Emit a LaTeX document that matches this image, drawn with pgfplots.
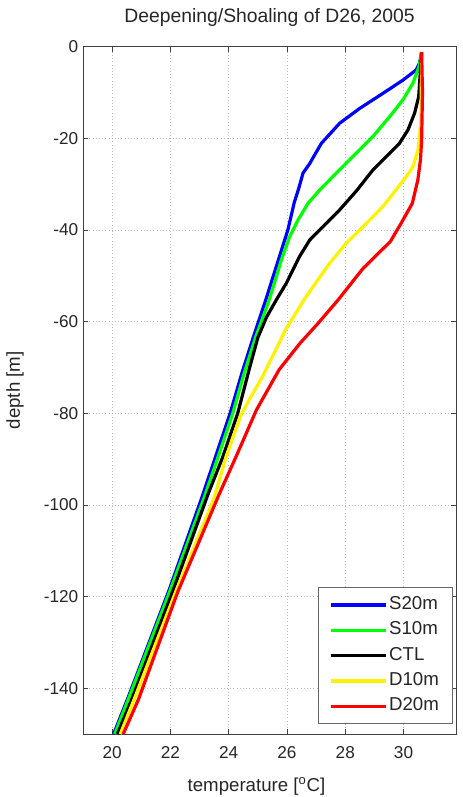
\documentclass[border=0pt]{standalone}
\usepackage{fontspec}
\setmainfont{Liberation Sans}
\usepackage{pgfplots}
\pgfplotsset{compat=1.18}

% temperature profiles, one table per run (T in degC, depth in m)
\pgfplotstableread{
T depth
30.62 -1.2
30.55 -3.6
30.43 -5.1
29.98 -7.3
29.29 -10.2
28.49 -13.5
27.81 -16.7
27.18 -21.1
26.78 -25.5
26.55 -27.6
26.40 -31.0
26.25 -34.0
26.03 -40.0
25.27 -55.3
24.85 -63.3
24.45 -71.3
24.05 -80.0
23.10 -98.0
21.96 -118.5
20.52 -142.5
20.05 -150.0
}\sdeep
\pgfplotstableread{
T depth
30.62 -1.2
30.53 -4.4
30.32 -8.0
29.98 -11.6
29.52 -15.3
28.95 -19.6
28.26 -24.0
27.69 -27.6
27.12 -31.3
26.72 -34.2
26.38 -37.8
26.09 -41.5
25.81 -46.5
25.39 -55.3
24.93 -63.3
24.53 -71.3
24.14 -80.0
23.68 -88.7
23.17 -98.2
22.00 -118.5
20.55 -142.5
20.09 -150.0
}\sten
\pgfplotstableread{
T depth
30.62 -1.2
30.58 -5.1
30.52 -10.9
30.38 -14.5
30.15 -18.2
29.86 -21.1
29.52 -23.3
28.95 -26.9
28.38 -31.5
27.81 -35.6
27.23 -39.3
26.78 -42.2
26.43 -45.8
25.98 -51.6
25.63 -55.3
25.30 -59.0
25.00 -63.5
24.72 -70.0
24.31 -80.0
23.80 -89.5
23.30 -97.5
22.10 -118.5
20.67 -142.5
20.18 -150.0
}\ctl
\pgfplotstableread{
T depth
30.62 -1.2
30.60 -16.0
30.50 -22.5
30.32 -26.2
30.09 -28.4
29.29 -34.9
28.61 -39.3
28.03 -42.9
27.46 -47.3
26.89 -52.4
26.58 -55.3
25.95 -61.8
25.61 -66.2
25.16 -72.0
24.70 -77.1
24.42 -80.4
23.91 -89.5
23.50 -98.5
22.21 -118.5
20.75 -142.5
20.28 -150.0
}\dten
\pgfplotstableread{
T depth
30.62 -1.2
30.65 -10.0
30.62 -20.4
30.58 -24.7
30.49 -29.1
30.30 -34.2
29.92 -38.5
29.55 -42.5
28.61 -48.4
27.75 -55.3
27.05 -60.5
26.45 -64.7
25.73 -70.5
24.95 -79.3
24.25 -89.5
23.65 -98.0
22.25 -119.0
20.90 -142.5
20.38 -150.0
}\ddeep

\begin{document}
\begin{tikzpicture}
\begin{axis}[
    name=ax,
    scale only axis,
    width=279.75pt, height=515.5pt,
    xmin=19, xmax=31.8, ymin=-150, ymax=0,
    xtick={20,22,...,30}, ytick={-140,-120,...,0},
    tick align=inside, major tick length=3.75pt,
    xtick pos=both, ytick pos=both,
    axis line style={black!75, line width=0.5pt},
    tick style={black!75, line width=0.5pt},
    grid=major, grid style={dotted, gray!55, line width=0.4pt},
    /pgf/number format/assume math mode=true,
    ticklabel style={font=\fontsize{12.9}{15}\selectfont, text=black!85},
    xticklabel style={yshift=-5.7pt},
    title={Deepening/Shoaling of D26, 2005},
    title style={at={(axis description cs:0.5,1)}, anchor=base, yshift=12pt,
        font=\fontsize{14.5}{17}\selectfont, text=black!85},
    xlabel={temperature [\textsuperscript{o}C]},
    xlabel style={at={(axis description cs:0.465,-0.084)}, anchor=base,
        font=\fontsize{14}{17}\selectfont, text=black!85},
    ylabel={depth [m]},
    ylabel style={at={(axis description cs:-0.182,0.5)}, anchor=center,
        font=\fontsize{14}{17}\selectfont, text=black!85},
    every axis plot/.append style={line width=2.4pt},
    legend image code/.code={\draw[#1] (0pt,0pt) -- (41pt,0pt);},
    legend cell align=left,
    legend style={at={(axis description cs:1,0)}, anchor=south east,
        xshift=-2.5pt, yshift=7.5pt, draw=black!60, line width=0.6pt,
        fill=white, font=\fontsize{14}{17}\selectfont, text=black!85,
        inner xsep=8.5pt, inner ysep=5pt, row sep=3pt,
        nodes={inner sep=1.5pt, text height=10pt, text depth=3pt}},
]
\addplot[blue] table[x=T, y=depth] {\sdeep};
\addplot[green] table[x=T, y=depth] {\sten};
\addplot[black] table[x=T, y=depth] {\ctl};
\addplot[yellow] table[x=T, y=depth] {\dten};
\addplot[red] table[x=T, y=depth] {\ddeep};
\legend{S20m, S10m, CTL, D10m, D20m}
\end{axis}
\pgfresetboundingbox
\path[use as bounding box] ([shift={(-62.25pt,-47.25pt)}]ax.south west)
    rectangle ([shift={(4.5pt,35pt)}]ax.north east);
\end{tikzpicture}
\end{document}
